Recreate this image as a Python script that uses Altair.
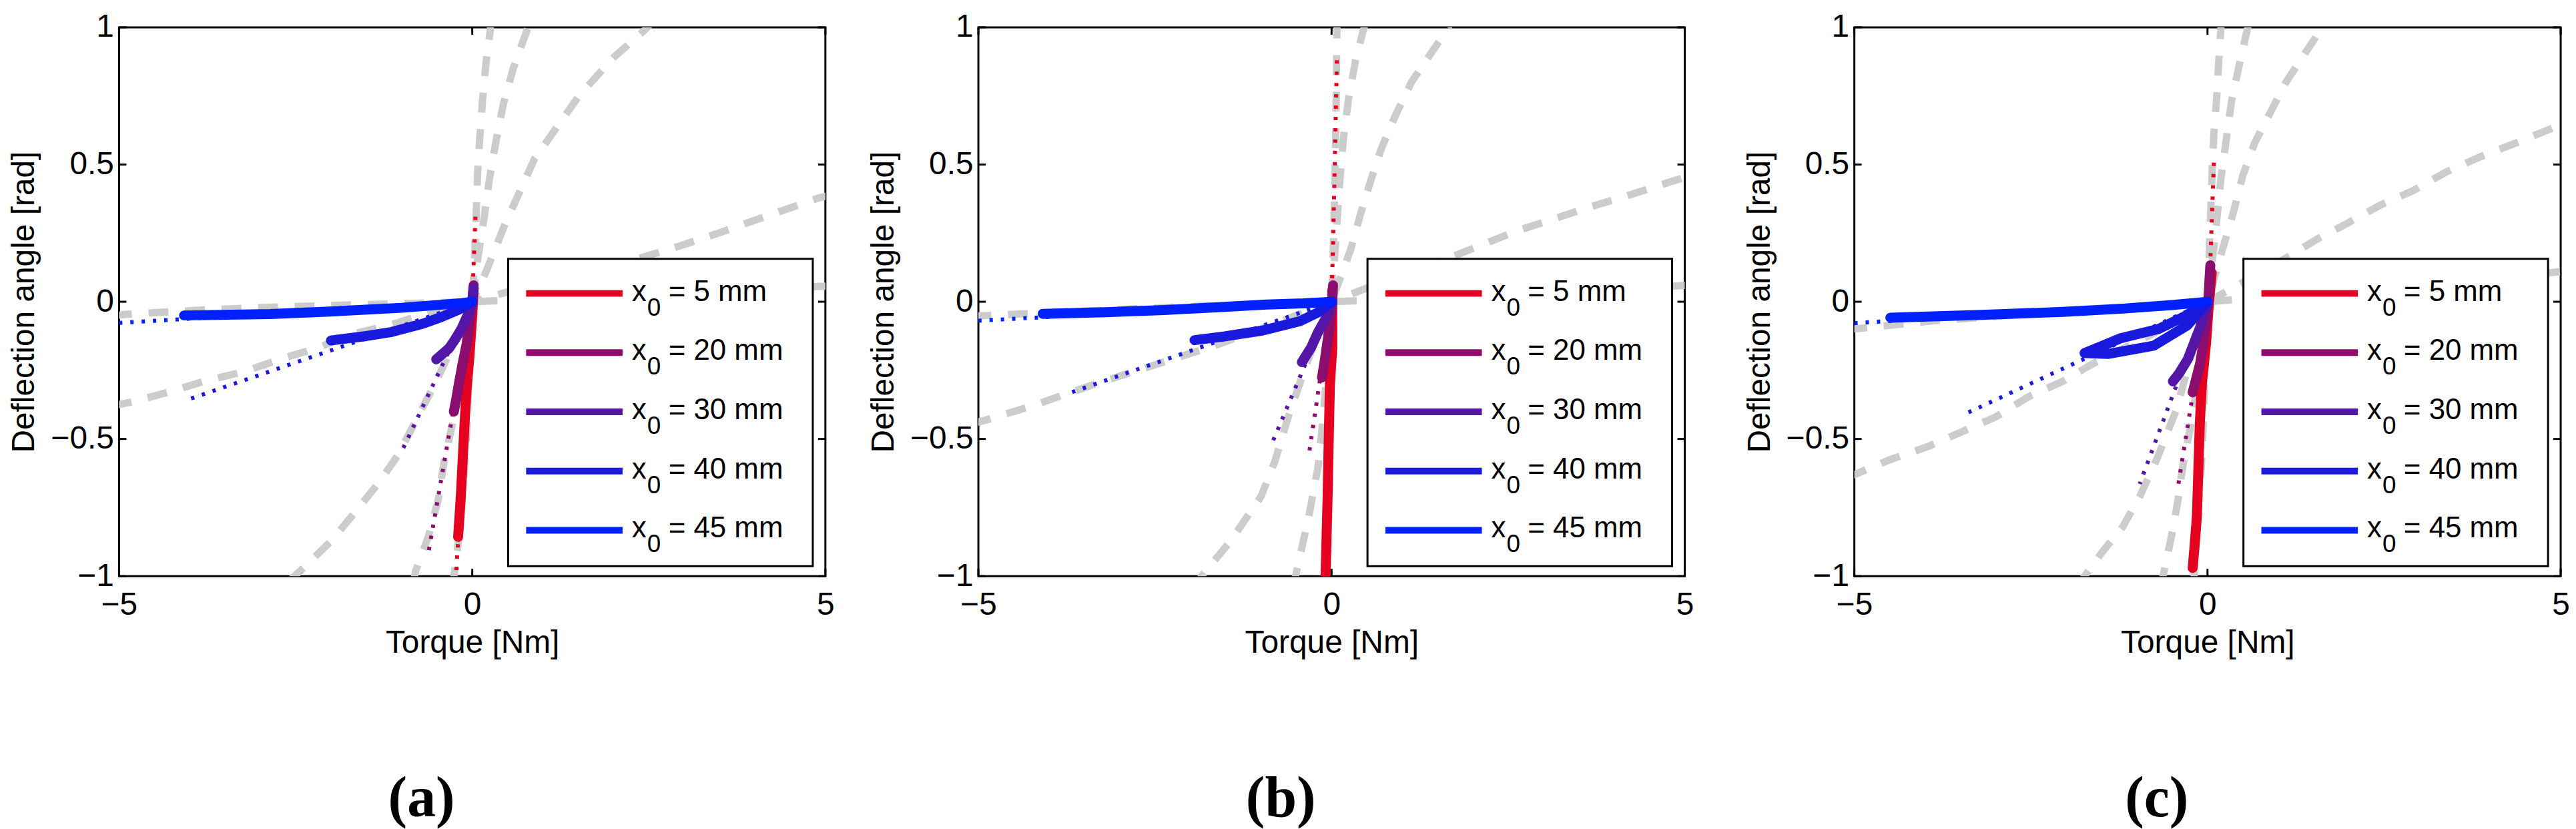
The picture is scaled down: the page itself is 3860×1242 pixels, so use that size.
import altair as alt
import pandas as pd

# ---------------- data ----------------
X_DOMAIN = [-5, 5]
Y_DOMAIN = [-1, 1]
X_TICKS = [-5, 0, 5]
Y_TICKS = [-1, -0.5, 0, 0.5, 1]

SERIES = ["1", "2", "3", "4", "5"]
SERIES_MM = ["= 5 mm", "= 20 mm", "= 30 mm", "= 40 mm", "= 45 mm"]
COLORS = ["#E4001E", "#8B0D6D", "#5316A7", "#1A1ADF", "#0021FF"]
PANEL_TAGS = ["(a)", "(b)", "(c)"]

# panel (a): grey model curves
A_GRAY_1 = [(-0.27, -1.04), (-0.255, -0.99), (-0.197, -0.876), (-0.146, -0.736), (-0.106, -0.595), (-0.074, -0.459), (-0.056, -0.317), (-0.035, -0.178), (0, 0), (0.035, 0.178), (0.056, 0.317), (0.074, 0.459), (0.106, 0.595), (0.146, 0.736), (0.197, 0.876), (0.255, 0.99), (0.27, 1.04)]
A_GRAY_2 = [(-0.84, -1.03), (-0.80, -0.98), (-0.62, -0.855), (-0.48, -0.72), (-0.40, -0.585), (-0.28, -0.445), (-0.17, -0.31), (-0.08, -0.16), (0, 0), (0.08, 0.16), (0.17, 0.31), (0.245, 0.45), (0.34, 0.59), (0.44, 0.72), (0.58, 0.85), (0.79, 1.0), (0.83, 1.03)]
A_GRAY_3 = [(-2.6, -1.02), (-2.39, -0.97), (-1.99, -0.87), (-1.65, -0.764), (-1.31, -0.655), (-1.05, -0.558), (-0.51, -0.29), (-0.2, -0.12), (0, 0), (0.18, 0.10), (0.46, 0.28), (0.88, 0.52), (1.51, 0.75), (2.0, 0.89), (2.44, 0.99), (2.55, 1.02)]
A_GRAY_4 = [(-5.1, -0.38), (-4.8, -0.364), (-4.28, -0.328), (-3.76, -0.287), (-3.23, -0.255), (-2.73, -0.21), (-2.21, -0.17), (-1.70, -0.118), (-1.16, -0.085), (-0.62, -0.04), (0, 0), (0.7, 0.05), (1.4, 0.095), (2.21, 0.146), (2.9, 0.2), (3.53, 0.254), (4.2, 0.315), (4.9, 0.378), (5.1, 0.39)]
A_GRAY_5 = [(-5.1, -0.052), (-4.9, -0.046), (-3.83, -0.03), (-2.85, -0.02), (-1.78, -0.012), (0, 0), (1.78, 0.02), (2.75, 0.035), (4.0, 0.048), (4.94, 0.056), (5.1, 0.058)]
# panel (a): measured (solid) and extrapolated (dotted)
A_5_SOLID = [(0.02, 0.05), (0.0, -0.05), (-0.04, -0.2), (-0.08, -0.32), (-0.11, -0.45), (-0.14, -0.6), (-0.16, -0.7), (-0.18, -0.78), (-0.2, -0.857)]
A_5_DOT = [(0.045, 0.31), (0.0, 0.0), (-0.23, -1.0)]
A_20_SOLID = [(0.02, 0.06), (0.0, 0.0), (-0.04, -0.08), (-0.08, -0.154), (-0.14, -0.23), (-0.19, -0.30), (-0.23, -0.36), (-0.26, -0.40)]
A_20_DOT = [(0.0, 0.0), (-0.62, -0.915)]
A_30_SOLID = [(0.02, 0.05), (0.0, 0.0), (-0.05, -0.04), (-0.15, -0.097), (-0.25, -0.14), (-0.33, -0.17), (-0.42, -0.19), (-0.51, -0.21)]
A_30_DOT = [(0.0, 0.0), (-0.98, -0.535)]
A_40_SOLID = [(0.0, 0.0), (-0.2, -0.03), (-0.44, -0.056), (-0.7, -0.08), (-1.14, -0.11), (-1.5, -0.125), (-2.0, -0.141)]
A_40_DOT = [(0.0, 0.0), (-4.03, -0.357)]
A_45_SOLID = [(0.0, 0.0), (-0.15, -0.005), (-1.0, -0.022), (-1.96, -0.035), (-2.86, -0.045), (-4.08, -0.05)]
A_45_DOT = [(0.0, 0.0), (-5.0, -0.077)]

# panel (b)
B_GRAY_1 = [(-0.085, -1.04), (-0.076, -1.0), (-0.066, -0.75), (-0.055, -0.55), (-0.04, -0.35), (-0.02, -0.15), (0, 0), (0.02, 0.15), (0.04, 0.35), (0.055, 0.55), (0.066, 0.75), (0.076, 1.0), (0.085, 1.04)]
B_GRAY_2 = [(-0.55, -1.04), (-0.51, -1.0), (-0.32, -0.78), (-0.19, -0.6), (-0.13, -0.45), (-0.08, -0.3), (-0.04, -0.15), (0, 0), (0.04, 0.15), (0.08, 0.3), (0.12, 0.45), (0.17, 0.6), (0.24, 0.74), (0.34, 0.88), (0.46, 1.0), (0.5, 1.03)]
B_GRAY_3 = [(-1.95, -1.05), (-1.84, -1.0), (-1.44, -0.875), (-1.0, -0.71), (-0.8, -0.58), (-0.62, -0.425), (-0.4, -0.26), (-0.2, -0.12), (0, 0), (0.27, 0.19), (0.41, 0.32), (0.54, 0.43), (0.70, 0.555), (0.90, 0.677), (1.13, 0.80), (1.56, 0.963), (1.7, 1.02)]
B_GRAY_4 = [(-5.1, -0.445), (-4.88, -0.43), (-4.22, -0.378), (-3.69, -0.33), (-3.23, -0.29), (-2.5, -0.23), (-1.66, -0.16), (-0.8, -0.08), (0, 0), (0.8, 0.08), (1.66, 0.16), (2.06, 0.20), (2.59, 0.255), (3.12, 0.30), (3.64, 0.344), (4.17, 0.385), (4.83, 0.44), (5.1, 0.46)]
B_GRAY_5 = [(-5.1, -0.053), (-4.88, -0.05), (-3.0, -0.028), (-1.91, -0.017), (0, 0), (1.9, 0.02), (3.0, 0.033), (4.9, 0.058), (5.1, 0.062)]
B_5_SOLID = [(0.01, 0.04), (0.01, -0.17), (-0.023, -0.30), (-0.04, -0.5), (-0.056, -0.71), (-0.07, -0.85), (-0.085, -1.0), (-0.09, -1.03)]
B_5_DOT = [(0.075, 0.88), (0.045, 0.5), (0.02, 0.2), (0.0, 0.0)]
B_20_SOLID = [(0.02, 0.06), (0.01, 0.0), (-0.02, -0.07), (-0.055, -0.14), (-0.1, -0.22), (-0.135, -0.276)]
B_20_DOT = [(0.0, 0.0), (-0.32, -0.555)]
B_30_SOLID = [(0.01, 0.0), (-0.08, -0.06), (-0.19, -0.11), (-0.29, -0.167), (-0.42, -0.22)]
B_30_DOT = [(0.0, 0.0), (-0.85, -0.52)]
B_40_SOLID = [(0.0, 0.0), (-0.2, -0.04), (-0.45, -0.071), (-0.98, -0.105), (-1.51, -0.126), (-1.94, -0.14)]
B_40_DOT = [(0.0, 0.0), (-3.76, -0.337)]
B_45_SOLID = [(0.0, 0.0), (-0.4, -0.006), (-0.92, -0.01), (-1.6, -0.02), (-2.37, -0.03), (-3.2, -0.038), (-4.09, -0.044)]
B_45_DOT = [(0.0, 0.0), (-5.0, -0.069)]

# panel (c)
C_GRAY_1 = [(-0.2, -1.04), (-0.19, -1.0), (-0.16, -0.88), (-0.13, -0.745), (-0.09, -0.61), (-0.07, -0.51), (-0.035, -0.25), (0, 0), (0.035, 0.25), (0.07, 0.51), (0.09, 0.61), (0.13, 0.745), (0.16, 0.88), (0.19, 1.0), (0.2, 1.04)]
C_GRAY_2 = [(-0.66, -1.04), (-0.63, -1.0), (-0.49, -0.83), (-0.42, -0.725), (-0.35, -0.60), (-0.2, -0.4), (-0.1, -0.2), (0, 0), (0.1, 0.22), (0.19, 0.45), (0.27, 0.6), (0.34, 0.73), (0.43, 0.84), (0.57, 1.0), (0.6, 1.03)]
C_GRAY_3 = [(-1.85, -1.04), (-1.74, -1.0), (-1.50, -0.915), (-1.20, -0.82), (-0.96, -0.71), (-0.72, -0.575), (-0.45, -0.4), (-0.2, -0.17), (0, 0), (0.2, 0.18), (0.36, 0.32), (0.50, 0.46), (0.67, 0.58), (0.91, 0.70), (1.11, 0.80), (1.52, 0.96), (1.65, 1.02)]
C_GRAY_4 = [(-5.1, -0.64), (-5.0, -0.63), (-4.49, -0.575), (-3.95, -0.527), (-3.47, -0.473), (-3.0, -0.42), (-2.52, -0.344), (-2.05, -0.29), (-1.64, -0.228), (-0.8, -0.12), (0, 0), (0.94, 0.133), (1.55, 0.228), (1.96, 0.283), (2.43, 0.35), (2.91, 0.405), (3.38, 0.473), (3.86, 0.528), (4.40, 0.582), (4.98, 0.643), (5.1, 0.655)]
C_GRAY_5 = [(-5.1, -0.101), (-5.0, -0.099), (-3.9, -0.07), (-2.0, -0.035), (0, 0), (2.0, 0.04), (3.9, 0.08), (5.0, 0.11), (5.1, 0.112)]
C_5_SOLID = [(0.06, 0.105), (0.02, -0.005), (-0.02, -0.15), (-0.08, -0.30), (-0.11, -0.45), (-0.125, -0.575), (-0.15, -0.78), (-0.18, -0.88), (-0.21, -0.97)]
C_5_DOT = [(0.09, 0.507), (0.02, 0.0), (-0.21, -0.97), (-0.24, -1.02)]
C_20_SOLID = [(0.04, 0.133), (0.01, 0.0), (-0.03, -0.1), (-0.1, -0.22), (-0.21, -0.33)]
C_20_DOT = [(0.0, 0.0), (-0.42, -0.677)]
C_30_SOLID = [(0.0, 0.0), (-0.1, -0.09), (-0.28, -0.21), (-0.4, -0.26), (-0.49, -0.29)]
C_30_DOT = [(0.0, 0.0), (-0.96, -0.664)]
C_40_SOLID = [(0.0, 0.0), (-0.3, -0.05), (-0.69, -0.099), (-1.23, -0.133), (-1.74, -0.187), (-1.4, -0.19), (-0.76, -0.16), (-0.28, -0.085), (0.0, 0.0)]
C_40_DOT = [(0.0, 0.0), (-3.40, -0.405)]
C_45_SOLID = [(0.0, 0.0), (-0.5, -0.012), (-1.2, -0.025), (-2.05, -0.037), (-3.2, -0.048), (-4.49, -0.058)]
C_45_DOT = [(0.0, 0.0), (-5.0, -0.078)]

PANELS = {
    "a": {
        "gray": [A_GRAY_1, A_GRAY_2, A_GRAY_3, A_GRAY_4, A_GRAY_5],
        "solid": [A_5_SOLID, A_20_SOLID, A_30_SOLID, A_40_SOLID, A_45_SOLID],
        "dot": [A_5_DOT, A_20_DOT, A_30_DOT, A_40_DOT, A_45_DOT],
    },
    "b": {
        "gray": [B_GRAY_1, B_GRAY_2, B_GRAY_3, B_GRAY_4, B_GRAY_5],
        "solid": [B_5_SOLID, B_20_SOLID, B_30_SOLID, B_40_SOLID, B_45_SOLID],
        "dot": [B_5_DOT, B_20_DOT, B_30_DOT, B_40_DOT, B_45_DOT],
    },
    "c": {
        "gray": [C_GRAY_1, C_GRAY_2, C_GRAY_3, C_GRAY_4, C_GRAY_5],
        "solid": [C_5_SOLID, C_20_SOLID, C_30_SOLID, C_40_SOLID, C_45_SOLID],
        "dot": [C_5_DOT, C_20_DOT, C_30_DOT, C_40_DOT, C_45_DOT],
    },
}

# ---------------- styling ----------------
W, H = 1062, 825
FONT = "Liberation Sans"
GREY = "#CCCCCC"


def frame(curves):
    rows = []
    for s, pts in zip(SERIES, curves):
        for i, (x, y) in enumerate(pts):
            rows.append({"series": s, "idx": i, "x": x, "y": y})
    return pd.DataFrame(rows)


X_ENC = alt.X(
    "x:Q",
    scale=alt.Scale(domain=X_DOMAIN, nice=False, zero=False),
    axis=alt.Axis(
        values=X_TICKS, title="Torque [Nm]", ticks=False, domain=False, grid=False,
        format="~g",
        labelFont=FONT, labelFontSize=48, labelPadding=19, labelColor="black",
        titleFont=FONT, titleFontSize=48, titleFontWeight="normal", titlePadding=10,
        titleColor="black", labelFlush=False,
    ),
)
Y_ENC = alt.Y(
    "y:Q",
    scale=alt.Scale(domain=Y_DOMAIN, nice=False, zero=False),
    axis=alt.Axis(
        values=Y_TICKS, title="Deflection angle [rad]", ticks=False, domain=False, grid=False,
        format="~g",
        labelFont=FONT, labelFontSize=48, labelPadding=8, labelColor="black",
        titleFont=FONT, titleFontSize=48, titleFontWeight="normal", titleColor="black",
        titleX=-128, titleBaseline="alphabetic", labelFlush=False,
    ),
)
COLOR_ENC = alt.Color("series:N", scale=alt.Scale(domain=SERIES, range=COLORS), legend=None)

LEG_X0, LEG_X1, LEG_Y0, LEG_Y1 = 585, 1043, 348, 810
LEG_ROW0, LEG_STEP = 400, 89


def panel(key, tag):
    d = PANELS[key]
    gray = alt.Chart(frame(d["gray"])).mark_line(
        color=GREY, strokeWidth=11, strokeDash=[30, 25], clip=True
    ).encode(x=X_ENC, y=Y_ENC, detail="series:N", order="idx:Q")
    dot = alt.Chart(frame(d["dot"])).mark_line(
        strokeWidth=6, strokeDash=[5, 12], clip=True
    ).encode(x=X_ENC, y=Y_ENC, color=COLOR_ENC, order="idx:Q")
    solid = alt.Chart(frame(d["solid"])).mark_line(
        strokeWidth=15, strokeCap="round", strokeJoin="round", clip=True
    ).encode(x=X_ENC, y=Y_ENC, color=COLOR_ENC, order="idx:Q")

    xt = pd.DataFrame({"x": X_TICKS})
    yt = pd.DataFrame({"y": Y_TICKS})
    tick_b = alt.Chart(xt).mark_rule(color="black", strokeWidth=3).encode(
        x=X_ENC, y=alt.value(H), y2=alt.value(H - 11))
    tick_t = alt.Chart(xt).mark_rule(color="black", strokeWidth=3).encode(
        x=X_ENC, y=alt.value(0), y2=alt.value(11))
    tick_l = alt.Chart(yt).mark_rule(color="black", strokeWidth=3).encode(
        y=Y_ENC, x=alt.value(0), x2=alt.value(11))
    tick_r = alt.Chart(yt).mark_rule(color="black", strokeWidth=3).encode(
        y=Y_ENC, x=alt.value(W), x2=alt.value(W - 11))

    box = alt.Chart(pd.DataFrame({"k": [0]})).mark_rect(
        fill="white", stroke="black", strokeWidth=3
    ).encode(x=alt.value(LEG_X0), x2=alt.value(LEG_X1), y=alt.value(LEG_Y0), y2=alt.value(LEG_Y1))

    layers = [gray, dot, solid, tick_b, tick_t, tick_l, tick_r, box]
    for i, (s, lab, col) in enumerate(zip(SERIES, SERIES_MM, COLORS)):
        yc = LEG_ROW0 + LEG_STEP * i
        row = pd.DataFrame({"series": [s], "main": ["x"], "sub": ["0"], "rest": [lab]})
        base = alt.Chart(row)
        layers.append(base.mark_rule(color=col, strokeWidth=10, strokeCap="butt").encode(
            x=alt.value(612), x2=alt.value(757), y=alt.value(yc)))
        layers.append(base.mark_text(align="left", baseline="alphabetic", font=FONT, fontSize=44, color="black").encode(
            x=alt.value(771), y=alt.value(yc + 11), text="main:N"))
        layers.append(base.mark_text(align="left", baseline="alphabetic", font=FONT, fontSize=37, color="black").encode(
            x=alt.value(794), y=alt.value(yc + 33), text="sub:N"))
        layers.append(base.mark_text(align="left", baseline="alphabetic", font=FONT, fontSize=44, color="black").encode(
            x=alt.value(826), y=alt.value(yc + 11), text="rest:N"))

    return alt.layer(*layers).properties(
        width=W, height=H,
        title=alt.TitleParams(
            text=tag, orient="bottom", anchor="middle", frame="bounds",
            font="Liberation Serif", fontSize=86, fontWeight="bold", color="black",
            offset=236, baseline="alphabetic",
        ),
    )


pa = panel("a", PANEL_TAGS[0])
pb = panel("b", PANEL_TAGS[1])
pc = panel("c", PANEL_TAGS[2])

chart = alt.hconcat(pa, alt.hconcat(pb, pc, spacing=72), spacing=47).properties(
    padding={"left": 3, "top": 5, "right": 0, "bottom": 0},
    background="white",
).configure_view(stroke="black", strokeWidth=3)

chart.save("out.html", embed_options={"renderer": "svg", "actions": False})
